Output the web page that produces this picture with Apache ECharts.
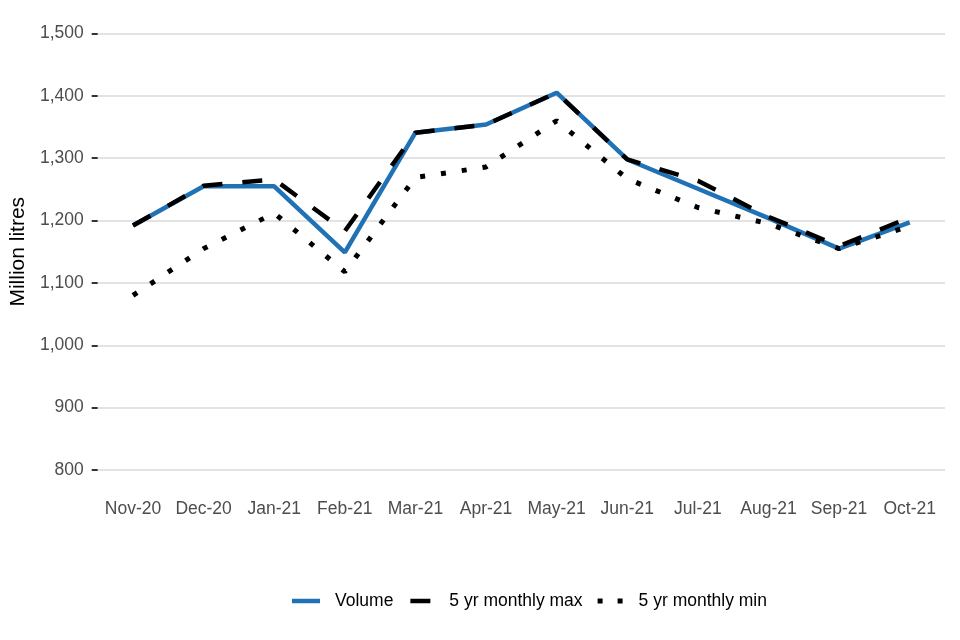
<!DOCTYPE html>
<html>
<head>
<meta charset="utf-8">
<script src="https://cdn.jsdelivr.net/npm/echarts@6/dist/echarts.min.js"></script>
<style>html,body{margin:0;padding:0;background:#fff}#c{width:960px;height:640px}</style>
</head>
<body>
<div id="c"></div>
<script>
const categories = ['Nov-20','Dec-20','Jan-21','Feb-21','Mar-21','Apr-21','May-21','Jun-21','Jul-21','Aug-21','Sep-21','Oct-21'];
const volume = [1192, 1255, 1255, 1149, 1341, 1354, 1405, 1298, 1251, 1204, 1155, 1197];
const max5yr = [1192, 1256, 1266, 1183, 1341, 1354, 1405, 1298, 1264, 1206, 1159, 1205];
const min5yr = [1080, 1155, 1212, 1118, 1269, 1286, 1360, 1267, 1221, 1195, 1155, 1191];
const yTicks = {min: 800, max: 1500, interval: 100};
const seriesNames = ['Volume', '5 yr monthly max', '5 yr monthly min'];

const chart = echarts.init(document.getElementById('c'), null, {renderer: 'canvas'});
const fmt = v => v.toLocaleString('en-GB');
const icons = [
  'path://M0,0 H28 V4.5 H0 Z',
  'path://M0,0 h0.01 v0.01 Z M4,0 H24 V4.5 H4 Z M28,4.49 h0.01 v0.01 Z',
  'path://M0,0 h0.01 v0.01 Z M2,0 h5 v5 h-5 Z M22,0 h5 v5 h-5 Z M28,4.99 h0.01 v0.01 Z'
];
chart.setOption({
  animation: false,
  textStyle: {fontFamily: 'Liberation Sans, Arial, sans-serif'},
  grid: {left: 97, right: 15, top: 33.5, bottom: 170, containLabel: false},
  legend: {
    left: 287, top: 587,
    itemWidth: 28, itemHeight: 14, itemGap: 13,
    symbolKeepAspect: true,
    textStyle: {fontSize: 17.5, color: '#000', padding: [0, 0, 0, 10]},
    data: seriesNames.map((n, i) => ({name: n, icon: icons[i]}))
  },
  xAxis: {
    type: 'category', data: categories, boundaryGap: true,
    axisLine: {show: false}, axisTick: {show: false},
    axisLabel: {color: '#4d4d4d', fontSize: 17.5, margin: 30, interval: 0, hideOverlap: false}
  },
  yAxis: {
    type: 'value', min: yTicks.min, max: yTicks.max, interval: yTicks.interval,
    name: 'Million litres', nameLocation: 'middle', nameGap: 66, nameRotate: 90,
    nameTextStyle: {fontSize: 21, color: '#000'},
    axisLine: {show: false},
    axisTick: {show: true, length: 6, lineStyle: {color: '#333', width: 2}},
    axisLabel: {color: '#4d4d4d', fontSize: 17.5, margin: 14, formatter: fmt},
    splitLine: {lineStyle: {color: '#e3e3e3', width: 2}}
  },
  series: [
    {name: seriesNames[0], type: 'line', data: volume, symbol: 'none', z: 2,
     lineStyle: {color: '#2171b5', width: 4.5}, itemStyle: {color: '#2171b5'}},
    {name: seriesNames[1], type: 'line', data: max5yr, symbol: 'none', z: 3,
     lineStyle: {color: '#000', width: 4.5, type: [20, 20], cap: 'butt'}, itemStyle: {color: '#000'}},
    {name: seriesNames[2], type: 'line', data: min5yr, symbol: 'none', z: 4,
     lineStyle: {color: '#000', width: 5, type: [5, 16], cap: 'butt'}, itemStyle: {color: '#000'}}
  ]
});
</script>
</body>
</html>
